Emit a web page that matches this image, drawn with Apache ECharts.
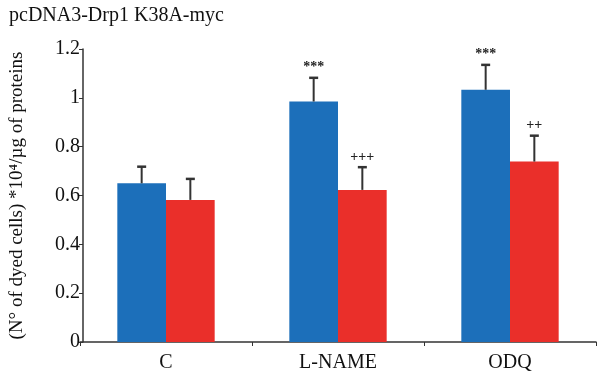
<!DOCTYPE html>
<html><head><meta charset="utf-8">
<script src="https://cdn.jsdelivr.net/npm/echarts@6/dist/echarts.min.js"></script>
<style>html,body{margin:0;padding:0;background:#fff}#c{width:597px;height:374px}</style>
</head><body><div id="c"></div>
<script>
var categories = ['C', 'L-NAME', 'ODQ'];
var blueValues = [0.65, 0.985, 1.033];
var blueErrors = [0.068, 0.097, 0.102];
var redValues = [0.582, 0.623, 0.739];
var redErrors = [0.086, 0.093, 0.106];
var blueMarks = ['', '***', '***'];
var redMarks = ['', '+++', '++'];
var yTicks = [0, 0.2, 0.4, 0.6, 0.8, 1, 1.2];

var BLUE = '#1c6fba', RED = '#ea2f2a';
var FONT = '"Liberation Serif", "Times New Roman", serif';
var BW = 0.283; // bar width fraction of band

function errSeries(vals, errs, marks, dir, name) {
  var data = vals.map(function (v, i) { return [i, v, v + errs[i]]; });
  return {
    type: 'custom', name: name, data: data, z: 5,
    renderItem: function (params, api) {
      var i = api.value(0);
      var base = api.coord([i, api.value(1)]);
      var top = api.coord([i, api.value(2)]);
      var band = api.size([1, 0])[0];
      var x = base[0] + dir * band * BW / 2;
      var cap = 4.5;
      var children = [
        { type: 'line', shape: { x1: x, y1: base[1], x2: x, y2: top[1] }, style: { stroke: '#333', lineWidth: 2 } },
        { type: 'line', shape: { x1: x - cap, y1: top[1], x2: x + cap, y2: top[1] }, style: { stroke: '#333', lineWidth: 2.5 } }
      ];
      var m = marks[params.dataIndex];
      if (m) {
        children.push({ type: 'text', x: x, y: top[1] - 3,
          style: { text: m, fill: '#222', font: 'bold 14px ' + FONT, align: 'center', verticalAlign: 'bottom' } });
      }
      return { type: 'group', children: children };
    }
  };
}

var chart = echarts.init(document.getElementById('c'));
chart.setOption({
  animation: false,
  title: { text: 'pcDNA3-Drp1 K38A-myc', left: 4, top: 1,
    textStyle: { fontFamily: FONT, fontSize: 20, fontWeight: 'normal', color: '#111' } },
  grid: { left: 77, right: 1, top: 49, bottom: 32, containLabel: false },
  xAxis: {
    type: 'category', data: categories,
    axisLine: { lineStyle: { color: '#333', width: 1.5 } },
    axisTick: { show: true, length: 4, lineStyle: { color: '#333' } },
    axisLabel: { fontFamily: FONT, fontSize: 20, color: '#111', margin: 11 }
  },
  yAxis: {
    type: 'value', min: 0, max: 1.2, interval: 0.2, offset: -3,
    name: '(N\u00b0 of dyed cells) *10\u2074/\u00b5g of proteins',
    nameLocation: 'middle', nameGap: 56, nameRotate: 90,
    nameTextStyle: { fontFamily: FONT, fontSize: 19, color: '#111' },
    axisLine: { show: true, lineStyle: { color: '#333', width: 1.5 } },
    axisTick: { show: true, length: 4, lineStyle: { color: '#333' } },
    splitLine: { show: false },
    axisLabel: { fontFamily: FONT, fontSize: 20, color: '#111', margin: 3,
      customValues: yTicks,
      formatter: function (v) { return String(Math.round(v * 10) / 10); } }
  },
  series: [
    { type: 'bar', name: 'blue', data: blueValues, barWidth: (BW * 100) + '%', barGap: '0%',
      itemStyle: { color: BLUE } },
    { type: 'bar', name: 'red', data: redValues, barWidth: (BW * 100) + '%', barGap: '0%',
      itemStyle: { color: RED } },
    errSeries(blueValues, blueErrors, blueMarks, -1, 'blueErr'),
    errSeries(redValues, redErrors, redMarks, 1, 'redErr')
  ]
});
</script></body></html>
